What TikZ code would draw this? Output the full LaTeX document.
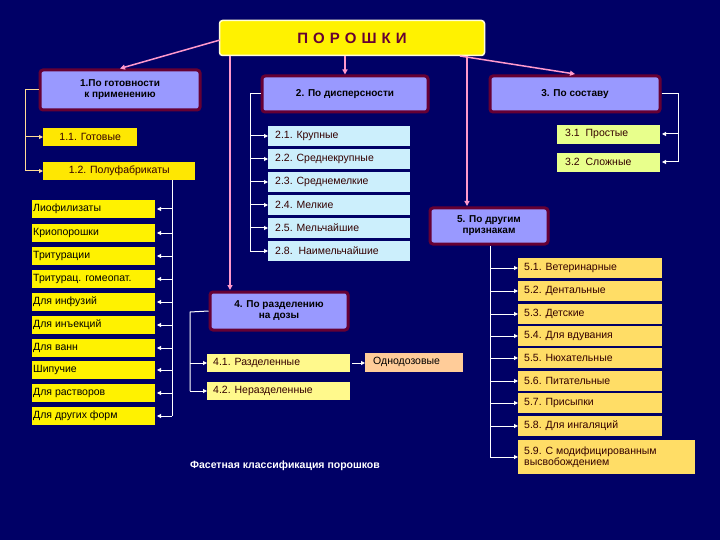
\documentclass[tikz,border=0pt]{standalone}
\usepackage{fontspec}
\setmainfont{Liberation Sans}
\usetikzlibrary{arrows.meta}
\definecolor{bg}{HTML}{000066}
\definecolor{lav}{HTML}{9999FF}
\definecolor{maro}{HTML}{660033}
\definecolor{txt}{HTML}{330000}
\definecolor{pinkl}{HTML}{FF99CC}
\begin{document}
\begin{tikzpicture}[x=1pt,y=-1pt,
 cat/.style={draw=maro,line width=3pt,fill=lav,rounded corners=3pt,font=\bfseries\fontsize{10}{11}\selectfont,align=center,text=black,inner sep=0pt},
 item/.style={anchor=west,inner sep=0pt,minimum height=18pt,font=\fontsize{10.5}{12}\selectfont,text=txt},
 link/.style={pinkl,line width=1.5pt,-{Triangle[length=5pt,width=5pt]}},
 br/.style={white,line width=1pt,-{Triangle[length=4pt,width=4pt]}},
 bry/.style={draw={rgb,255:red,255;green,220;blue,150},line width=1pt,-{Triangle[length=4pt,width=4pt]}}]
\fill[bg] (0,0) rectangle (720,540);
\useasboundingbox (0,0) rectangle (720,540);
% title
\node[draw=white!85!yellow,line width=1.5pt,fill=yellow,rounded corners=3pt,minimum width=265pt,minimum height=35pt,text=maro,font=\bfseries\fontsize{15}{16}\selectfont] (t) at (352,38) {П\,\,О\,\,Р\,\,О\,\,Ш\,\,К\,\,И};
% categories
\node[cat,minimum width=160pt,minimum height=40pt] (c1) at (120,90) {1.По готовности\\к применению};
\node[cat,minimum width=166pt,minimum height=36pt] (c2) at (345,94) {2. По дисперсности};
\node[cat,minimum width=170pt,minimum height=36pt] (c3) at (575,94) {3. По составу};
\node[cat,minimum width=138pt,minimum height=38pt] (c4) at (279,311) {4. По разделению\\на дозы};
\node[cat,minimum width=118pt,minimum height=36pt] (c5) at (489,226) {5. По другим\\признакам};
\coordinate (t1) at (220,40);
\coordinate (t2) at (345,56);
\coordinate (t3) at (460,56);
\coordinate (t4) at (230,56);
\coordinate (t5) at (467,56);
\draw[link] (t1) -- (c1.north);
\draw[link] (t2) -- (c2.north);
\draw[link] (t3) -- (575,74);
\draw[link] (t4) -- (230,290);
\draw[link] (t5) -- (467,206);
% 1.x
\node[item,fill=yellow!90!orange,minimum width=94pt] (a1) at (43,137) {1.1. Готовые};
\node[item,fill=yellow!90!orange,minimum width=152pt] (a2) at (43,171) {1.2. Полуфабрикаты};
\coordinate (b1) at (25,90);
\draw[bry,-] (c1.west) -- (b1) -- (25,171);
\draw[bry] (25,137) -- (a1.west);
\draw[bry] (25,171) -- (a2.west);
% left list
\foreach \n/\y/\s in {l1/209/Лиофилизаты,l2/233/Криопорошки,l3/256/Тритурации,l4/279/{Тритурац. гомеопат.},l5/302/{Для инфузий},l6/325/{Для инъекций},l7/348/{Для ванн},l8/370/Шипучие,l9/393/{Для растворов},l10/416/{Для других форм}}{
 \fill[yellow] (32,\y-9) rectangle (155,\y+9);
 \node[item,text=black] (\n) at (33,\y) {\s};
 \draw[br] (172,\y) -- (157,\y);
}
\draw[white,line width=1pt] (a2.south -| 172,0) -- (172,416);
% 2.x
\foreach \n/\y/\s in {d1/136/{2.1. Крупные},d2/159/{2.2. Среднекрупные},d3/182/{2.3. Среднемелкие},d4/205/{2.4. Мелкие},d5/228/{2.5. Мельчайшие},d6/251/{2.8.\ \ Наимельчайшие}}{
 \fill[cyan!20] (268,\y-10) rectangle (410,\y+10);
 \node[item] (\n) at (275,\y) {\s};
 \draw[br] (250,\y) -- (268,\y);
}
\draw[white,line width=1pt] (c2.west) -- (250,94) -- (250,251);
% 3.x
\fill[green!20!yellow!45] (557,125) rectangle (660,144);
\node[item] (s1) at (565,134) {3.1\ \ Простые};
\fill[green!20!yellow!45] (557,153) rectangle (660,172);
\node[item] (s2) at (565,162) {3.2\ \ Сложные};
\draw[white,line width=1pt] (c3.east) -- (678,94) -- (678,162);
\draw[br] (678,134) -- (662,134);
\draw[br] (678,162) -- (662,162);
% 4.x
\fill[yellow!45] (207,354) rectangle (350,372);
\node[item] (p1) at (213,363) {4.1. Разделенные};
\fill[yellow!45] (207,382) rectangle (350,400);
\node[item] (p2) at (213,391) {4.2. Неразделенные};
\fill[orange!40] (365,353) rectangle (463,372);
\node[item,text=black] (p3) at (373,362) {Однодозовые};
\draw[white,line width=1pt] (c4.west) -- (190,312) -- (190,391);
\draw[br] (190,363) -- (207,363);
\draw[br] (190,391) -- (207,391);
\draw[br] (352,363) -- (365,363);
% 5.x
\foreach \n/\y/\s in {e1/268/{5.1. Ветеринарные},e2/291/{5.2. Дентальные},e3/314/{5.3. Детские},e4/336/{5.4. Для вдувания},e5/358/{5.5. Нюхательные},e6/381/{5.6. Питательные},e7/403/{5.7. Присыпки},e8/426/{5.8. Для ингаляций}}{
 \fill[orange!45!yellow!60] (518,\y-10) rectangle (662,\y+10);
 \node[item] (\n) at (524,\y) {\s};
 \draw[br] (490,\y) -- (518,\y);
}
\fill[orange!45!yellow!60] (518,440) rectangle (695,474);
\node[item,align=left,font=\fontsize{10.5}{11}\selectfont] (e9) at (524,457) {5.9. С модифицированным\\высвобождением};
\draw[br] (490,457) -- (518,457);
\draw[white,line width=1pt] (c5.south -| 490,0) -- (490,457);
% caption
\node[text=white,font=\bfseries\fontsize{10.5}{12}\selectfont] (cap) at (285,466) {Фасетная классификация порошков};
\end{tikzpicture}
\end{document}
